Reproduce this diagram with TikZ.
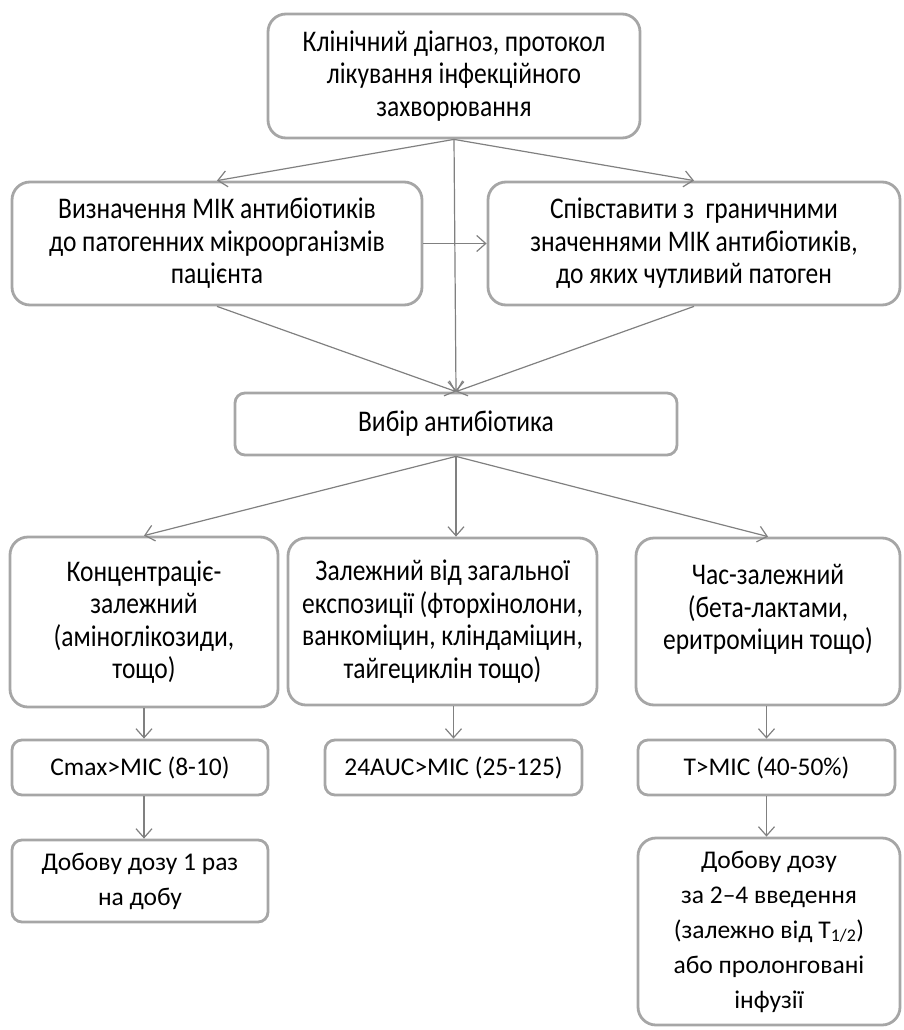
\documentclass[tikz,border=0pt]{standalone}
\usepackage{fontspec}
\setmainfont{Carlito}
\newfontfamily\condfont[FakeStretch=0.85]{Carlito}
\usetikzlibrary{arrows.meta}
\definecolor{boxgray}{RGB}{166,166,166}
\definecolor{arrgray}{RGB}{128,128,128}
\tikzset{
  x=1pt,y=-1pt,
  fbox/.style={draw=boxgray, line width=2.8pt, rounded corners=18pt, align=center, inner sep=0pt, text=black},
  sbox/.style={fbox, rounded corners=10pt},
  cond/.style={font=\condfont\fontsize{30}{32.5}\selectfont},
  norm/.style={font=\fontsize{25.5}{35}\selectfont},
  arr/.style={draw=arrgray, line width=1.2pt, -{Straight Barb[length=9pt,width=16pt,line width=1.2pt]}},
}
\begin{document}
\begin{tikzpicture}
\useasboundingbox (0,0) rectangle (903,1030);
\node[fbox,cond,minimum width=372pt,minimum height=124pt] (top) at (454,76)
  {Клінічний діагноз, протокол\\лікування інфекційного\\захворювання};
\node[fbox,cond,minimum width=410pt,minimum height=123pt] (mic) at (217,243.5)
  {Визначення МІК антибіотиків\\до патогенних мікроорганізмів\\пацієнта};
\node[fbox,cond,minimum width=412pt,minimum height=123pt] (cmp) at (694,243.5)
  {Співставити з\ \ граничними\\значеннями МІК антибіотиків,\\до яких чутливий патоген};
\node[sbox,cond,minimum width=442pt,minimum height=62pt] (sel) at (456,424)
  {Вибір антибіотика};
\node[fbox,cond,minimum width=268pt,minimum height=170pt] (conc) at (144,622)
  {Концентраціє-\\залежний\\(аміноглікозиди,\\тощо)};
\node[fbox,cond,minimum width=309pt,minimum height=167pt] (auc) at (442.5,621.5)
  {Залежний від загальної\\експозиції (фторхінолони,\\ванкоміцин, кліндаміцин,\\тайгециклін тощо)};
\node[fbox,cond,minimum width=264pt,minimum height=167pt] (time) at (768,621.5)
  {Час-залежний\\(бета-лактами,\\еритроміцин тощо)\\[-4pt]};
\node[sbox,norm,minimum width=256pt,minimum height=55pt] (cmax) at (140,767.5)
  {Cmax>MIC (8-10)};
\node[sbox,norm,minimum width=257pt,minimum height=55pt] (auc2) at (453.5,767.5)
  {24AUC>MIC (25-125)};
\node[sbox,norm,minimum width=257pt,minimum height=55pt] (tmic) at (766.5,767.5)
  {T>MIC (40-50\%)};
\node[sbox,norm,minimum width=256pt,minimum height=82pt] (dose1) at (140,881)
  {Добову дозу 1 раз\\на добу};
\node[fbox,norm,minimum width=262pt,minimum height=187pt] (dose2) at (769,931.5)
  {Добову дозу\\за 2--4 введення\\(залежно від T\textsubscript{1/2})\\або пролонговані\\інфузії};
% connectors
\draw[arr] (top.south) -- (mic.north);
\draw[arr] (top.south) -- (cmp.north);
\draw[arr] (top.south) -- (sel.north);
\draw[arr] (mic.east) -- (cmp.west);
\draw[arr] (mic.south) -- (sel.north);
\draw[arr] (cmp.south) -- (sel.north);
\draw[arr] (sel.south) -- (conc.north);
\draw[arr] (sel.south) -- (sel.south |- auc.north);
\draw[arr] (sel.south) -- (time.north);
\draw[arr] (conc.south) -- (conc.south |- cmax.north);
\draw[arr] (auc2.north |- auc.south) -- (auc2.north);
\draw[arr] (tmic.north |- time.south) -- (tmic.north);
\draw[arr] (conc.south |- cmax.south) -- (conc.south |- dose1.north);
\draw[arr] (tmic.north |- tmic.south) -- (tmic.north |- dose2.north);
\end{tikzpicture}
\end{document}
